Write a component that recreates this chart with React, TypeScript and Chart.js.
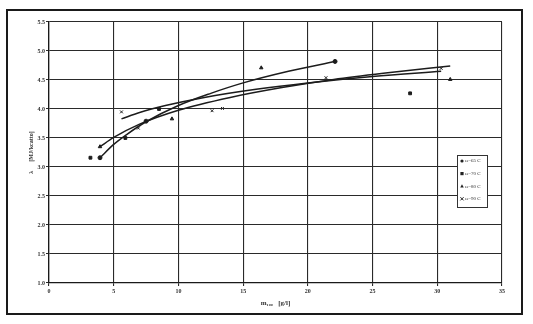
import { useEffect, useRef } from 'react';
import { Chart, registerables } from 'chart.js';

Chart.register(...registerables);

// Axis ticks
const xTickValues = [0, 5, 10, 15, 20, 25, 30, 35];
const yTickValues = [1.0, 1.5, 2.0, 2.5, 3.0, 3.5, 4.0, 4.5, 5.0, 5.5];

// Legend labels
const seriesLabels = ['ω=65 C', 'ω=70 C', 'ω=80 C', 'ω=90 C'];

const p65X = [3.94, 7.5, 22.1];
const p65Y = [3.16, 3.79, 4.82];
const p70X = [3.2, 5.9, 8.5, 27.9];
const p70Y = [3.16, 3.5, 4.0, 4.27];
const p80X = [3.94, 9.5, 16.4, 31.0];
const p80Y = [3.35, 3.83, 4.71, 4.51];
const p90X = [5.6, 6.9, 12.6, 13.4, 21.4, 30.3];
const p90Y = [3.95, 3.67, 3.97, 4.01, 4.54, 4.7];

// Trend curves
const fitAX = [3.94, 5, 6, 7.5, 10, 12.5, 15, 18.5, 22.1];
const fitAY = [3.16, 3.39, 3.56, 3.78, 4.06, 4.27, 4.45, 4.65, 4.82];
const fitBX = [3.94, 5, 7, 10, 14, 18, 22, 26, 31];
const fitBY = [3.35, 3.51, 3.74, 3.98, 4.2, 4.37, 4.51, 4.62, 4.74];
const fitCX = [5.6, 7, 9, 12, 16, 20, 25, 30.3];
const fitCY = [3.83, 3.94, 4.06, 4.2, 4.34, 4.45, 4.56, 4.65];

const zip = (xs: number[], ys: number[]) => xs.map((x, i) => ({ x, y: ys[i] }));

const markerStyles = ['circle', 'rect', 'triangle', 'crossRot'];

function drawMarker(ctx: CanvasRenderingContext2D, style: string, x: number, y: number, r: number) {
  ctx.beginPath();
  if (style === 'circle') {
    ctx.arc(x, y, r, 0, Math.PI * 2);
    ctx.fill();
  } else if (style === 'rect') {
    ctx.fillRect(x - r, y - r, 2 * r, 2 * r);
  } else if (style === 'triangle') {
    ctx.moveTo(x, y - r * 1.2);
    ctx.lineTo(x + r * 1.1, y + r * 0.8);
    ctx.lineTo(x - r * 1.1, y + r * 0.8);
    ctx.closePath();
    ctx.fill();
  } else {
    ctx.moveTo(x - r, y - r);
    ctx.lineTo(x + r, y + r);
    ctx.moveTo(x + r, y - r);
    ctx.lineTo(x - r, y + r);
    ctx.stroke();
  }
}

const framePlugin = {
  id: 'frameAndLegend',
  afterDraw(chart: any) {
    const ctx = chart.ctx as CanvasRenderingContext2D;
    ctx.save();
    // outer frame
    ctx.strokeStyle = '#1a1a1a';
    ctx.lineWidth = 2;
    ctx.strokeRect(7, 10, 515, 304);
    // legend box
    const bx = 457, by = 155, bw = 30, bh = 52;
    ctx.fillStyle = '#ffffff';
    ctx.fillRect(bx, by, bw, bh);
    ctx.strokeStyle = '#333';
    ctx.lineWidth = 1;
    ctx.strokeRect(bx + 0.5, by + 0.5, bw, bh);
    ctx.font = '5px "Liberation Serif", serif';
    ctx.textBaseline = 'middle';
    ctx.textAlign = 'left';
    seriesLabels.forEach((lab, i) => {
      const y = 161 + i * 12.6;
      ctx.fillStyle = '#222';
      ctx.strokeStyle = '#222';
      ctx.lineWidth = 1;
      drawMarker(ctx, markerStyles[i], 462, y, 1.6);
      ctx.fillStyle = '#333';
      ctx.fillText(lab, 465, y);
    });
    ctx.restore();
  },
};

export default function App() {
  const ref = useRef<HTMLCanvasElement | null>(null);

  useEffect(() => {
    if (!ref.current) return;
    const pointSets = [
      zip(p65X, p65Y),
      zip(p70X, p70Y),
      zip(p80X, p80Y),
      zip(p90X, p90Y),
    ];
    const fitSets = [zip(fitAX, fitAY), zip(fitBX, fitBY), zip(fitCX, fitCY)];
    const datasets: any[] = [];
    fitSets.forEach((d, i) => {
      datasets.push({
        type: 'line',
        label: 'trend ' + (i + 1),
        data: d,
        borderColor: '#1c1c1c',
        borderWidth: 1.5,
        pointRadius: 0,
        cubicInterpolationMode: 'monotone',
        fill: false,
      });
    });
    pointSets.forEach((d, i) => {
      datasets.push({
        type: 'scatter',
        label: seriesLabels[i],
        data: d,
        pointStyle: markerStyles[i],
        pointRadius: 2,
        pointBackgroundColor: '#1c1c1c',
        pointBorderColor: '#1c1c1c',
        pointBorderWidth: 1,
        showLine: false,
      });
    });

    const tickFont = { family: '"Liberation Serif", serif', size: 6, weight: 'bold' as const };
    const chart = new Chart(ref.current, {
      type: 'scatter',
      data: { datasets },
      options: {
        animation: false,
        responsive: false,
        maintainAspectRatio: false,
        layout: { padding: { left: 0, right: 31, top: 22, bottom: 0 } },
        plugins: {
          legend: { display: false },
          tooltip: { enabled: false },
        },
        scales: {
          x: {
            type: 'linear',
            min: 0,
            max: 35,
            afterFit: (s: any) => { s.height = 41; },
            afterBuildTicks: (s: any) => { s.ticks = xTickValues.map((v) => ({ value: v })); },
            ticks: {
              font: tickFont,
              color: '#333',
              padding: 2,
              maxRotation: 0,
              callback: (v: any) => String(v),
            },
            grid: { color: '#2a2a2a', lineWidth: 1.1, tickLength: 3 },
            border: { color: '#1a1a1a', width: 1.3 },
            title: {
              display: true,
              text: 'm₁₀₀   [g/l]',
              font: { family: '"Liberation Serif", serif', size: 7, weight: 'bold' as const },
              color: '#333',
              padding: { top: 0, bottom: 17 },
            },
          },
          y: {
            type: 'linear',
            min: 1,
            max: 5.5,
            afterFit: (s: any) => { s.width = 49; },
            afterBuildTicks: (s: any) => { s.ticks = yTickValues.map((v) => ({ value: v })); },
            ticks: {
              font: tickFont,
              color: '#333',
              padding: 1,
              callback: (v: any) => Number(v).toFixed(1),
            },
            grid: { color: '#2a2a2a', lineWidth: 1.1, tickLength: 3 },
            border: { color: '#1a1a1a', width: 1.3 },
            title: {
              display: true,
              text: 'λ      [MJ/kcatto]',
              font: { family: '"Liberation Serif", serif', size: 6, weight: 'bold' as const },
              color: '#333',
              padding: { top: 28, bottom: 0 },
            },
          },
        },
      },
      plugins: [framePlugin],
    });
    return () => chart.destroy();
  }, []);

  return (
    <div style={{ position: 'absolute', left: 0, top: 0, width: 533, height: 324, background: '#fff' }}>
      <canvas ref={ref} width={533} height={324} style={{ width: 533, height: 324, display: 'block' }} />
    </div>
  );
}
